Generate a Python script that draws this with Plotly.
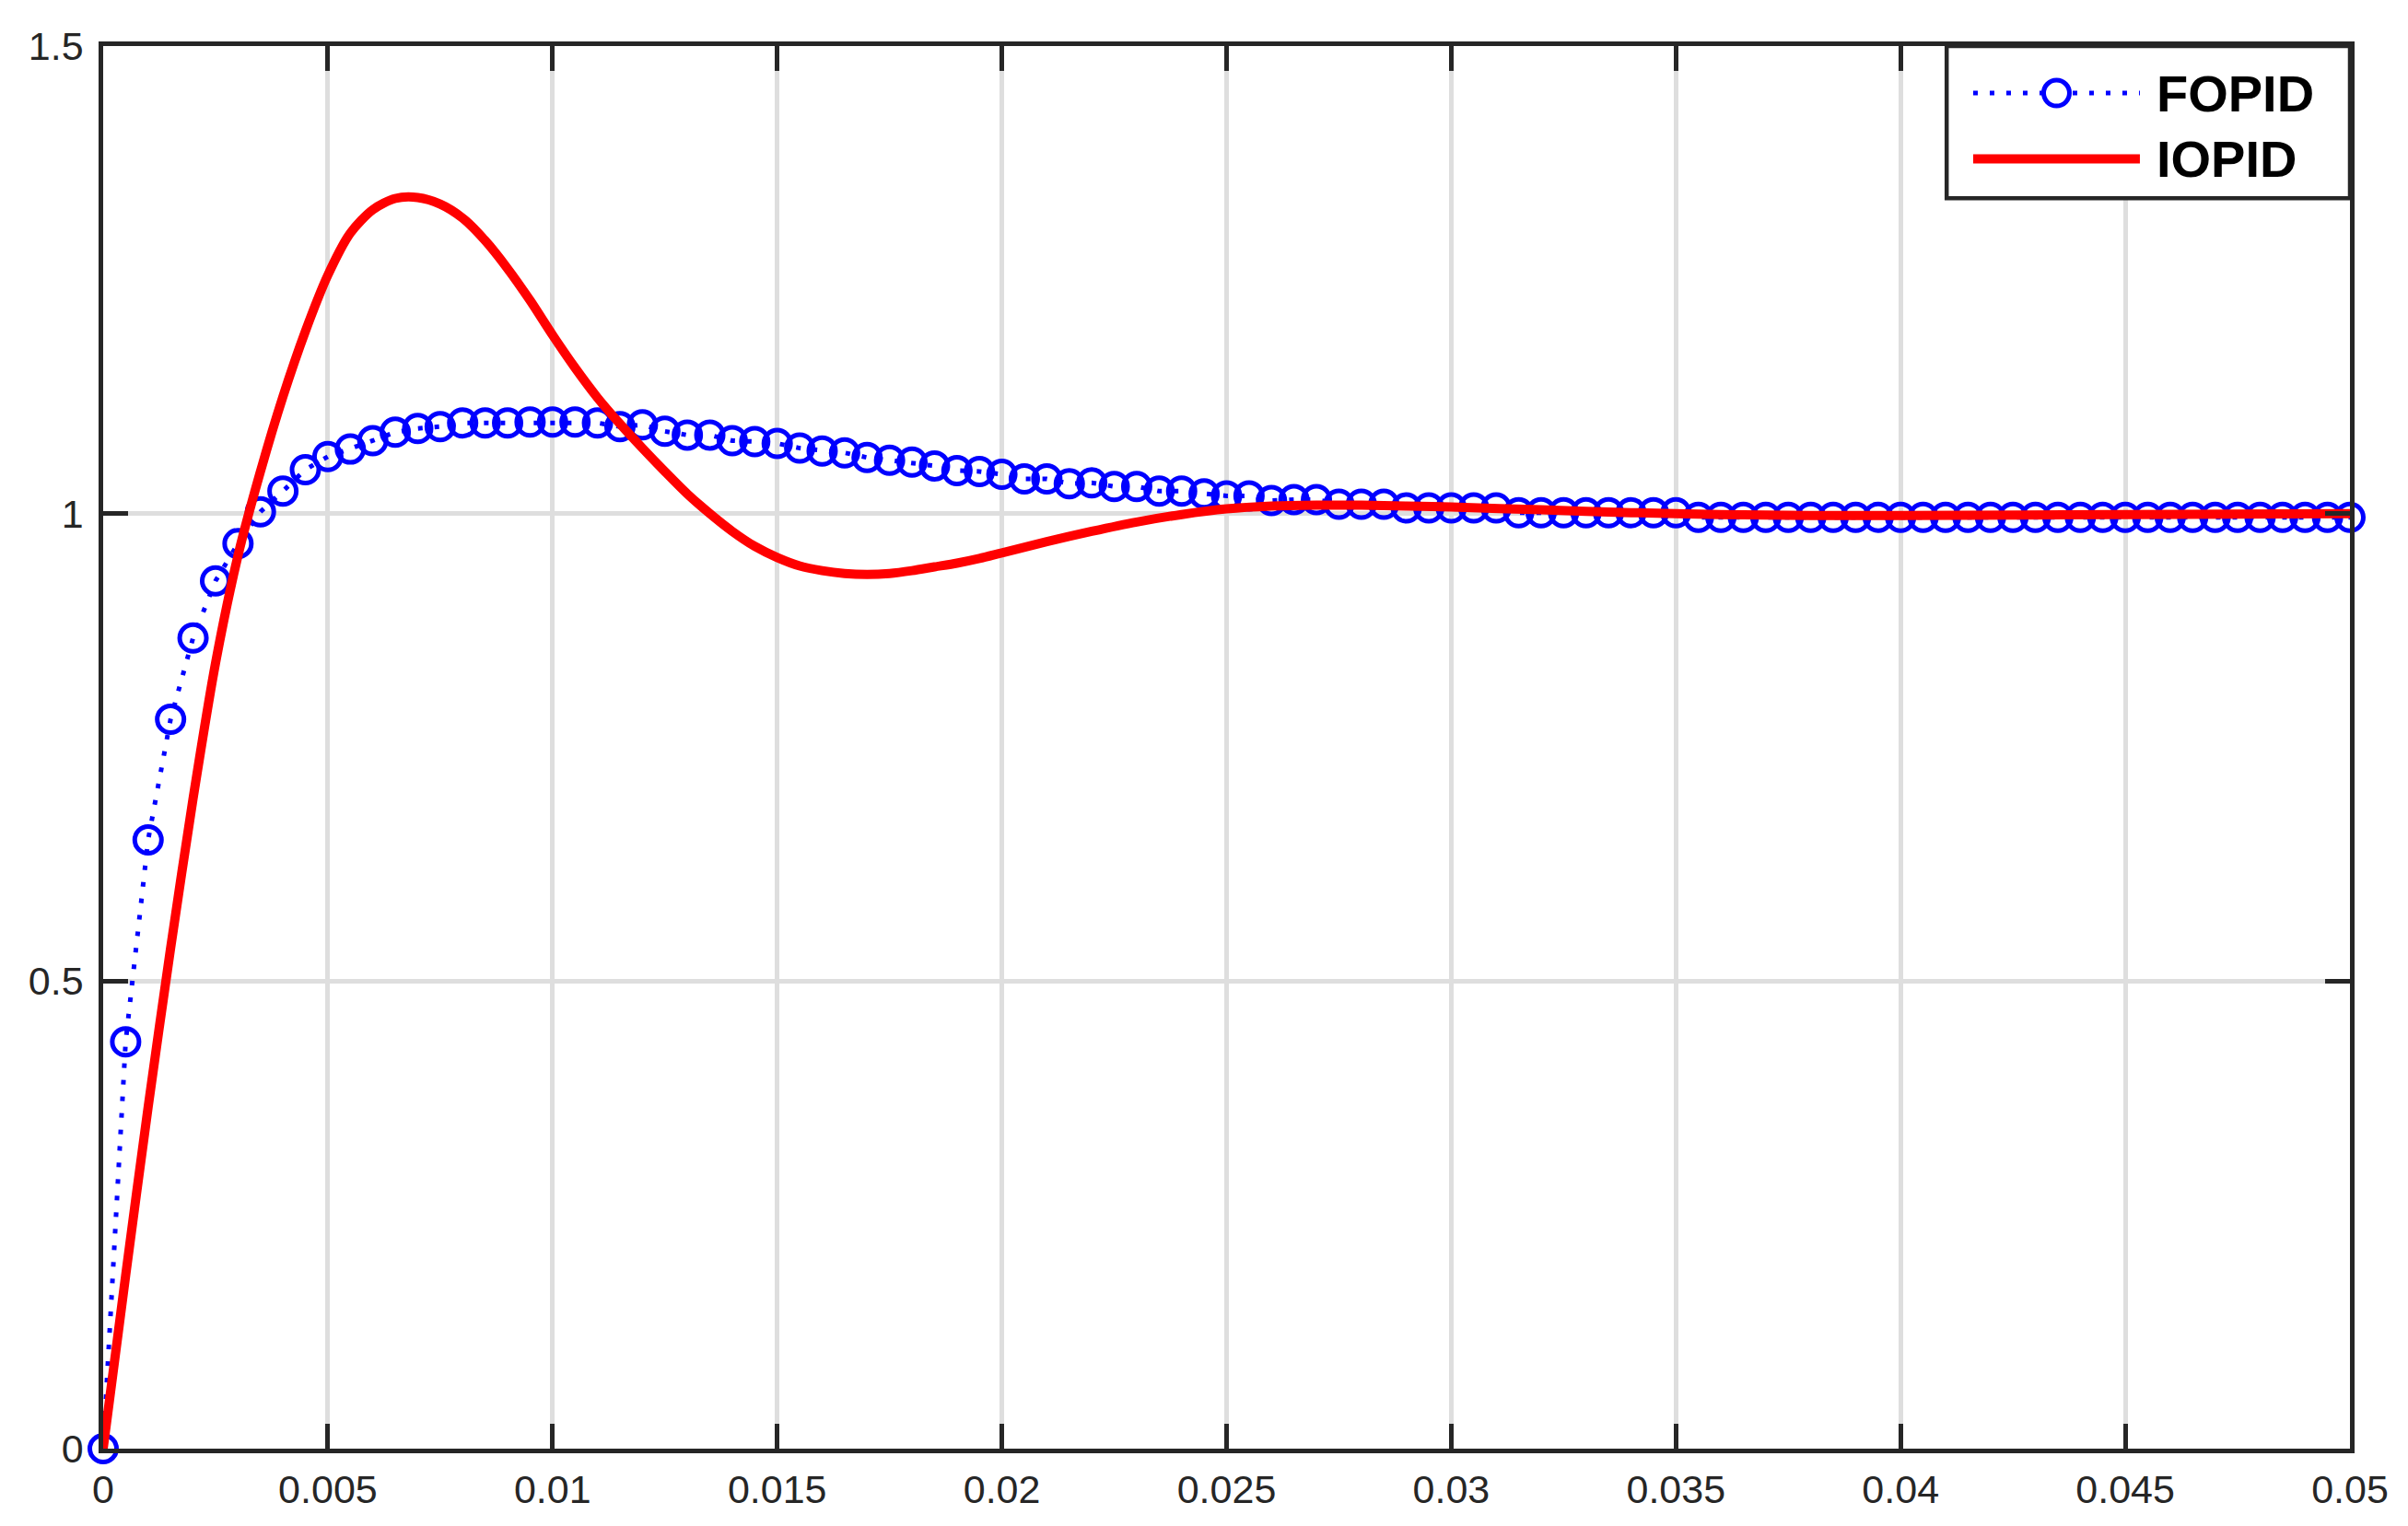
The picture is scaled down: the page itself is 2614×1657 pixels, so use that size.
import plotly.graph_objects as go

# time axis (s)
t_fopid = [i * 0.0005 for i in range(101)]
y_fopid = [
    0.0, 0.435, 0.651, 0.780, 0.867, 0.928, 0.968, 1.002, 1.024, 1.047,
    1.061, 1.069, 1.078, 1.087, 1.091, 1.093, 1.097, 1.097, 1.097, 1.098,
    1.098, 1.098, 1.097, 1.093, 1.095, 1.088, 1.084, 1.084, 1.078, 1.077,
    1.075, 1.070, 1.067, 1.065, 1.060, 1.057, 1.055, 1.051, 1.046, 1.045,
    1.042, 1.037, 1.037, 1.032, 1.033, 1.029, 1.029, 1.024, 1.024, 1.021,
    1.019, 1.019, 1.014, 1.015, 1.015, 1.010, 1.010, 1.010, 1.006, 1.006,
    1.006, 1.006, 1.006, 1.001, 1.001, 1.001, 1.001, 1.001, 1.001, 1.001,
    1.001, 0.996, 0.996, 0.996, 0.996, 0.996, 0.996, 0.996, 0.996, 0.996,
    0.996, 0.996, 0.996, 0.996, 0.996, 0.996, 0.996, 0.996, 0.996, 0.996,
    0.996, 0.996, 0.996, 0.996, 0.996, 0.996, 0.996, 0.996, 0.996, 0.996,
    0.996,
]

t_iopid = [0.0, 0.0005, 0.001, 0.0015, 0.002, 0.0025, 0.003, 0.0035, 0.004, 0.0045,
           0.005, 0.0055, 0.006, 0.0065, 0.007, 0.0075, 0.008, 0.0085, 0.009, 0.0095,
           0.01, 0.0105, 0.011, 0.0115, 0.012, 0.0125, 0.013, 0.0135, 0.014, 0.0145,
           0.015, 0.0155, 0.016, 0.0165, 0.017, 0.0175, 0.018, 0.0185, 0.019, 0.0195,
           0.02, 0.021, 0.022, 0.023, 0.024, 0.025, 0.026, 0.027, 0.028, 0.029,
           0.03, 0.032, 0.034, 0.036, 0.038, 0.04, 0.045, 0.05]
y_iopid = [0.0, 0.185, 0.365, 0.535, 0.695, 0.840, 0.955, 1.045, 1.125, 1.195,
           1.255, 1.300, 1.325, 1.337, 1.338, 1.331, 1.316, 1.292, 1.262, 1.228,
           1.191, 1.156, 1.124, 1.096, 1.070, 1.045, 1.021, 1.000, 0.981, 0.965,
           0.953, 0.944, 0.939, 0.936, 0.935, 0.936, 0.939, 0.943, 0.947, 0.952,
           0.958, 0.970, 0.981, 0.991, 0.999, 1.005, 1.008, 1.009, 1.009, 1.008,
           1.007, 1.004, 1.001, 0.999, 0.998, 0.998, 0.999, 1.0]

x_ticks = [0, 0.005, 0.01, 0.015, 0.02, 0.025, 0.03, 0.035, 0.04, 0.045, 0.05]
x_labels = ['0', '0.005', '0.01', '0.015', '0.02', '0.025', '0.03', '0.035', '0.04', '0.045', '0.05']
y_ticks = [0, 0.5, 1, 1.5]
y_labels = ['0', '0.5', '1', '1.5']

FONT = 'Liberation Sans, Arial, Helvetica, sans-serif'
AX = '#262626'

fig = go.Figure()

# FOPID: dotted blue line with open circles
fig.add_trace(go.Scatter(
    x=t_fopid, y=y_fopid, mode='lines+markers', name='FOPID',
    line=dict(color='#0000ff', width=5, dash='5px,13px'),
    marker=dict(symbol='circle-open', size=29, color='#0000ff', line=dict(width=5)),
    cliponaxis=False
))

# IOPID: solid thick red line
fig.add_trace(go.Scatter(
    x=t_iopid, y=y_iopid, mode='lines', name='IOPID',
    line=dict(color='#ff0000', width=10, shape='spline', smoothing=0.8)
))

axis_common = dict(
    showline=True, linecolor=AX, linewidth=4.5, mirror='ticks',
    ticks='inside', ticklen=27, tickwidth=4.5, tickcolor=AX,
    showgrid=True, gridcolor='#dedede', gridwidth=4.5,
    zeroline=False, automargin=False,
    tickfont=dict(family=FONT, size=43, color=AX),
)

fig.update_xaxes(range=[0, 0.05], tickvals=x_ticks, ticktext=x_labels,
                 ticklabelstandoff=3, **axis_common)
fig.update_yaxes(range=[0, 1.5], tickvals=y_ticks, ticktext=y_labels,
                 ticklabelstandoff=8, **axis_common)

# legend drawn by hand so the sample lines are as long as in the original
lx0, lx1 = 0.8323, 0.9065
y_f, y_i = 0.9665, 0.9195
shapes = [
    dict(type='rect', xref='paper', yref='paper', x0=0.8205, x1=1.0, y0=0.8915, y1=1.0,
         fillcolor='white', line=dict(color=AX, width=4.5), layer='above'),
    dict(type='line', xref='paper', yref='paper', x0=lx0, x1=lx1, y0=y_f, y1=y_f,
         line=dict(color='#0000ff', width=5, dash='5px,13px'), layer='above'),
    dict(type='circle', xref='paper', yref='paper', xsizemode='pixel', ysizemode='pixel',
         xanchor=(lx0 + lx1) / 2, yanchor=y_f, x0=-14, x1=14, y0=-14, y1=14,
         fillcolor='white', line=dict(color='#0000ff', width=5), layer='above'),
    dict(type='line', xref='paper', yref='paper', x0=lx0, x1=lx1, y0=y_i, y1=y_i,
         line=dict(color='#ff0000', width=10), layer='above'),
]
annotations = [
    dict(text='<b>FOPID</b>', xref='paper', yref='paper', x=0.9131, y=y_f,
         xanchor='left', yanchor='middle', showarrow=False,
         font=dict(family=FONT, size=56, color='black')),
    dict(text='<b>IOPID</b>', xref='paper', yref='paper', x=0.9131, y=y_i,
         xanchor='left', yanchor='middle', showarrow=False,
         font=dict(family=FONT, size=56, color='black')),
]

# the page body adds an 8px offset, so the figure is a bit smaller than the window
fig.update_layout(
    width=2598, height=1641,
    paper_bgcolor='white', plot_bgcolor='white',
    margin=dict(l=104, r=55, t=42, b=76, pad=0),
    showlegend=False,
    shapes=shapes, annotations=annotations,
    font=dict(family=FONT, color=AX),
)

fig.write_html("out.html")
